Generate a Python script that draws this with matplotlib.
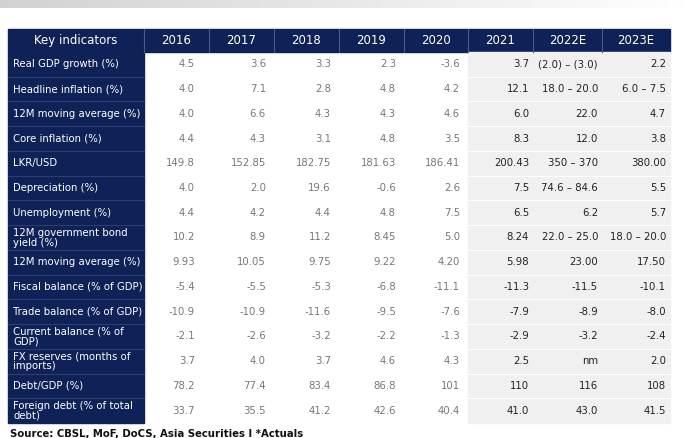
import numpy as np
import matplotlib.pyplot as plt
from matplotlib.patches import Rectangle

years = ["2016", "2017", "2018", "2019", "2020", "2021", "2022E", "2023E"]
indicators = [
    "Real GDP growth (%)", "Headline inflation (%)", "12M moving average (%)",
    "Core inflation (%)", "LKR/USD", "Depreciation (%)", "Unemployment (%)",
    "12M government bond\nyield (%)", "12M moving average (%)",
    "Fiscal balance (% of GDP)", "Trade balance (% of GDP)",
    "Current balance (% of\nGDP)", "FX reserves (months of\nimports)",
    "Debt/GDP (%)", "Foreign debt (% of total\ndebt)",
]
values = [
    ["4.5", "3.6", "3.3", "2.3", "-3.6", "3.7", "(2.0) \u2013 (3.0)", "2.2"],
    ["4.0", "7.1", "2.8", "4.8", "4.2", "12.1", "18.0 \u2013 20.0", "6.0 \u2013 7.5"],
    ["4.0", "6.6", "4.3", "4.3", "4.6", "6.0", "22.0", "4.7"],
    ["4.4", "4.3", "3.1", "4.8", "3.5", "8.3", "12.0", "3.8"],
    ["149.8", "152.85", "182.75", "181.63", "186.41", "200.43", "350 \u2013 370", "380.00"],
    ["4.0", "2.0", "19.6", "-0.6", "2.6", "7.5", "74.6 \u2013 84.6", "5.5"],
    ["4.4", "4.2", "4.4", "4.8", "7.5", "6.5", "6.2", "5.7"],
    ["10.2", "8.9", "11.2", "8.45", "5.0", "8.24", "22.0 \u2013 25.0", "18.0 \u2013 20.0"],
    ["9.93", "10.05", "9.75", "9.22", "4.20", "5.98", "23.00", "17.50"],
    ["-5.4", "-5.5", "-5.3", "-6.8", "-11.1", "-11.3", "-11.5", "-10.1"],
    ["-10.9", "-10.9", "-11.6", "-9.5", "-7.6", "-7.9", "-8.9", "-8.0"],
    ["-2.1", "-2.6", "-3.2", "-2.2", "-1.3", "-2.9", "-3.2", "-2.4"],
    ["3.7", "4.0", "3.7", "4.6", "4.3", "2.5", "nm", "2.0"],
    ["78.2", "77.4", "83.4", "86.8", "101", "110", "116", "108"],
    ["33.7", "35.5", "41.2", "42.6", "40.4", "41.0", "43.0", "41.5"],
]

navy = "#0f2257"
W, H = 699, 438
fig = plt.figure(figsize=(W / 100, H / 100), dpi=100)
ax = fig.add_axes([0, 0, 1, 1])
ax.set_xlim(0, W)
ax.set_ylim(H, 0)
ax.axis("off")

# top grey strip
grad = np.linspace(0.82, 1.0, 256).reshape(1, -1)
ax.imshow(grad, cmap="gray", vmin=0, vmax=1, extent=[0, W, 8, 0], aspect="auto")

col_x = [8, 144, 209, 274, 339, 404, 468, 533, 602, 670]
top, head_h = 29, 23
row_h = (423 - top - head_h) / len(indicators)
y0 = top + head_h

ax.add_patch(Rectangle((8, top), 662, head_h, color=navy))
ax.add_patch(Rectangle((8, y0), 136, row_h * len(indicators), color=navy))
ax.add_patch(Rectangle((468, y0), 202, row_h * len(indicators), color="#f0f0f0"))
for xb in col_x[1:-1]:
    ax.plot([xb, xb], [top, y0], color="#4a5a88", lw=0.8)
ax.text(76, top + head_h / 2, "Key indicators", color="white", ha="center", va="center", fontsize=8.5)
for j, yr in enumerate(years):
    ax.text((col_x[j + 1] + col_x[j + 2]) / 2, top + head_h / 2, yr, color="white",
            ha="center", va="center", fontsize=8.5)

for i, (name, row) in enumerate(zip(indicators, values)):
    yc = y0 + (i + 0.5) * row_h
    if i > 0:
        ax.plot([8, 144], [y0 + i * row_h] * 2, color="#2c3e72", lw=0.8)
        ax.plot([468, 670], [y0 + i * row_h] * 2, color="white", lw=0.8)
    ax.text(13, yc, name, color="white", ha="left", va="center", fontsize=7.3, linespacing=1.0)
    for j, v in enumerate(row):
        c = "#222222" if j >= 5 else "#777777"
        off = 8 if j < 5 else 4
        xr = col_x[j + 2] - off - (6 if j == 0 else 0)
        ax.text(xr, yc, v, color=c, ha="right", va="center", fontsize=7.3)

ax.text(10, 434, "Source: CBSL, MoF, DoCS, Asia Securities I *Actuals", fontsize=7.3,
        fontweight="bold", ha="left", va="center", color="#111111")

fig.savefig("out.png", dpi=100)
